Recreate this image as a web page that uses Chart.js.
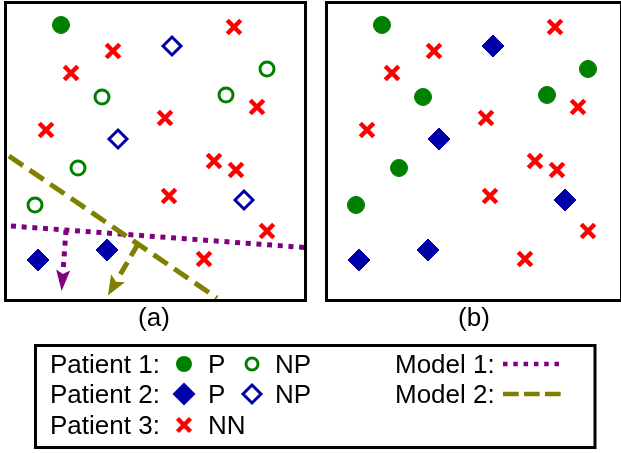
<!DOCTYPE html>
<html>
<head>
<meta charset="utf-8">
<script src="https://cdn.jsdelivr.net/npm/chart.js@4.4.1/dist/chart.umd.min.js"></script>
<style>
  html, body { margin: 0; padding: 0; background: #fff; }
  #wrap { position: relative; width: 621px; height: 453px; overflow: hidden; font-family: "Liberation Sans", Arial, sans-serif; }
  canvas { position: absolute; }
  .txt { position: absolute; font-size: 26px; line-height: 30px; color: #000; white-space: nowrap; }
</style>
</head>
<body>
<div id="wrap">
  <canvas id="leyenda" width="621" height="453" style="left:0;top:0"></canvas>
  <canvas id="panelA" width="312" height="305" style="left:0;top:0;width:312px;height:305px"></canvas>
  <canvas id="panelB" width="300" height="305" style="left:321px;top:0;width:300px;height:305px"></canvas>

  <div class="txt" style="left:104px;top:302px;width:100px;text-align:center">(a)</div>
  <div class="txt" style="left:424px;top:302px;width:100px;text-align:center">(b)</div>

  <div class="txt" style="left:50px;top:349px">Patient 1:</div>
  <div class="txt" style="left:208px;top:349px">P</div>
  <div class="txt" style="left:275px;top:349px">NP</div>
  <div class="txt" style="left:395px;top:349px">Model 1:</div>
  <div class="txt" style="left:50px;top:379px">Patient 2:</div>
  <div class="txt" style="left:208px;top:379px">P</div>
  <div class="txt" style="left:275px;top:379px">NP</div>
  <div class="txt" style="left:395px;top:379px">Model 2:</div>
  <div class="txt" style="left:50px;top:410px">Patient 3:</div>
  <div class="txt" style="left:208px;top:410px">NN</div>
</div>
<script>
'use strict';

// Posiciones de los pacientes (iguales en los dos paneles)
const paciente1X = [56, 262, 97, 221, 73, 30];
const paciente1Y = [275, 231, 203, 205, 132, 95];
const paciente1Etiqueta = ['P', 'NP', 'NP', 'NP', 'NP', 'NP']; // panel (a)

const paciente2X = [167, 113, 239, 102, 33];
const paciente2Y = [254, 161, 100, 50, 40];
const paciente2Etiqueta = ['NP', 'NP', 'NP', 'P', 'P']; // panel (a)

const paciente3X = [229, 108, 66, 252, 160, 41, 209, 231, 164, 262, 199];
const paciente3Y = [273, 249, 227, 193, 182, 170, 139, 130, 104, 69, 41];

// Fronteras de los modelos y sus flechas (panel a)
const modelo1X = [6, 300];
const modelo1Y = [74, 52.5];
const flecha1X = [61, 58];
const flecha1Y = [70, 28];

const modelo2X = [4, 212];
const modelo2Y = [144, 2];
const flecha2X = [133, 112];
const flecha2Y = [56, 20];

const VERDE = '#008000';
const AZUL = '#0000a8';
const ROJO = '#ff0000';
const MORADO = '#800080';
const OLIVA = '#808000';

function puntos(xs, ys, filtro) {
    const out = [];
    xs.forEach((x, i) => {
        if (!filtro || filtro(i)) out.push({ x: x, y: ys[i] });
    });
    return out;
}

function circulo(data, lleno) {
    return {
        data: data,
        pointStyle: 'circle',
        pointRadius: lleno ? 8.5 : 7,
        pointBackgroundColor: lleno ? VERDE : '#fff',
        pointBorderColor: VERDE,
        pointBorderWidth: lleno ? 1 : 3
    };
}

function rombo(data, lleno) {
    return {
        data: data,
        pointStyle: 'rectRot',
        pointRadius: lleno ? 11 : 9,
        pointBackgroundColor: lleno ? AZUL : '#fff',
        pointBorderColor: AZUL,
        pointBorderWidth: lleno ? 1 : 3
    };
}

function cruz(data) {
    return {
        data: data,
        pointStyle: 'crossRot',
        pointRadius: 9.5,
        pointBorderColor: ROJO,
        pointBorderWidth: 4.5
    };
}

function linea(data, color, dash, flecha) {
    return {
        data: data,
        showLine: true,
        borderColor: color,
        borderWidth: 5,
        borderDash: dash,
        borderCapStyle: 'butt',
        pointRadius: 0,
        flecha: flecha
    };
}

// Marco negro alrededor de cada panel
const marcoPlugin = {
    id: 'marco',
    afterDraw(chart) {
        const { ctx, chartArea: a } = chart;
        ctx.save();
        ctx.lineWidth = 3;
        ctx.strokeStyle = '#000';
        ctx.strokeRect(a.left + 0.5, a.top + 0.5, a.right - a.left, a.bottom - a.top);
        ctx.restore();
    }
};

// Punta de flecha al final de los datasets marcados
const flechaPlugin = {
    id: 'flecha',
    afterDatasetsDraw(chart) {
        const ctx = chart.ctx;
        chart.data.datasets.forEach((ds, i) => {
            if (!ds.flecha) return;
            const pts = chart.getDatasetMeta(i).data;
            const p1 = pts[pts.length - 2], p2 = pts[pts.length - 1];
            const dx = p2.x - p1.x, dy = p2.y - p1.y;
            const len = Math.hypot(dx, dy);
            const ux = dx / len, uy = dy / len;
            const L = ds.flecha.largo, W = ds.flecha.ancho;
            const bx = p2.x - ux * 2, by = p2.y - uy * 2;
            ctx.save();
            ctx.fillStyle = ds.borderColor;
            ctx.beginPath();
            ctx.moveTo(p2.x + ux * L, p2.y + uy * L);
            ctx.lineTo(bx - uy * W, by + ux * W);
            ctx.lineTo(p2.x + ux * 2, p2.y + uy * 2);
            ctx.lineTo(bx + uy * W, by - ux * W);
            ctx.closePath();
            ctx.fill();
            ctx.restore();
        });
    }
};

function opciones(xMax, padDer) {
    return {
        responsive: false,
        animation: false,
        events: [],
        layout: { autoPadding: false, padding: { left: 5, top: 2, right: padDer, bottom: 5 } },
        plugins: { legend: { display: false }, tooltip: { enabled: false } },
        scales: {
            x: { type: 'linear', min: 0, max: xMax, display: false },
            y: { type: 'linear', min: 0, max: 298, display: false }
        }
    };
}

// Panel (a)
new Chart(document.getElementById('panelA'), {
    type: 'scatter',
    data: {
        datasets: [
            linea(puntos(modelo2X, modelo2Y), OLIVA, [17, 8]),
            linea(puntos(flecha2X, flecha2Y), OLIVA, [14, 7], { largo: 18, ancho: 8 }),
            linea(puntos(modelo1X, modelo1Y), MORADO, [5, 5.7]),
            linea(puntos(flecha1X, flecha1Y), MORADO, [5, 5.7], { largo: 19, ancho: 7 }),
            circulo(puntos(paciente1X, paciente1Y, i => paciente1Etiqueta[i] === 'P'), true),
            circulo(puntos(paciente1X, paciente1Y, i => paciente1Etiqueta[i] === 'NP'), false),
            rombo(puntos(paciente2X, paciente2Y, i => paciente2Etiqueta[i] === 'P'), true),
            rombo(puntos(paciente2X, paciente2Y, i => paciente2Etiqueta[i] === 'NP'), false),
            cruz(puntos(paciente3X, paciente3Y))
        ]
    },
    options: opciones(300, 7),
    plugins: [flechaPlugin, marcoPlugin]
});

// Panel (b): todos los puntos rellenos
new Chart(document.getElementById('panelB'), {
    type: 'scatter',
    data: {
        datasets: [
            circulo(puntos(paciente1X, paciente1Y), true),
            rombo(puntos(paciente2X, paciente2Y), true),
            cruz(puntos(paciente3X, paciente3Y))
        ]
    },
    options: opciones(295, 0),
    plugins: [marcoPlugin]
});

// Leyenda: recuadro, marcadores y muestras de línea
(function dibujarLeyenda() {
    const ctx = document.getElementById('leyenda').getContext('2d');
    ctx.lineWidth = 3;
    ctx.strokeStyle = '#000';
    ctx.strokeRect(35.5, 345.5, 559.5, 102);

    // círculo lleno
    ctx.fillStyle = VERDE;
    ctx.beginPath(); ctx.arc(184, 364, 8, 0, Math.PI * 2); ctx.fill();
    // círculo hueco
    ctx.strokeStyle = VERDE;
    ctx.lineWidth = 3;
    ctx.beginPath(); ctx.arc(252, 364, 6, 0, Math.PI * 2); ctx.stroke();

    // rombo lleno
    const romboPath = (x, y, r) => {
        ctx.beginPath();
        ctx.moveTo(x, y - r); ctx.lineTo(x + r, y); ctx.lineTo(x, y + r); ctx.lineTo(x - r, y);
        ctx.closePath();
    };
    ctx.fillStyle = AZUL;
    romboPath(184, 394, 11.5); ctx.fill();
    ctx.strokeStyle = AZUL;
    romboPath(252, 394, 9); ctx.stroke();

    // cruz
    ctx.strokeStyle = ROJO;
    ctx.lineWidth = 4.5;
    const d = 6.5;
    ctx.beginPath();
    ctx.moveTo(184 - d, 425 - d); ctx.lineTo(184 + d, 425 + d);
    ctx.moveTo(184 + d, 425 - d); ctx.lineTo(184 - d, 425 + d);
    ctx.stroke();

    // Modelo 1 punteado
    ctx.lineWidth = 4.5;
    ctx.lineCap = 'butt';
    ctx.strokeStyle = MORADO;
    ctx.setLineDash([4.5, 5.8]);
    ctx.beginPath(); ctx.moveTo(503, 364); ctx.lineTo(563, 364); ctx.stroke();

    // Modelo 2 discontinuo
    ctx.strokeStyle = OLIVA;
    ctx.setLineDash([15.7, 5.3]);
    ctx.beginPath(); ctx.moveTo(503, 394); ctx.lineTo(563, 394); ctx.stroke();
})();
</script>
</body>
</html>
